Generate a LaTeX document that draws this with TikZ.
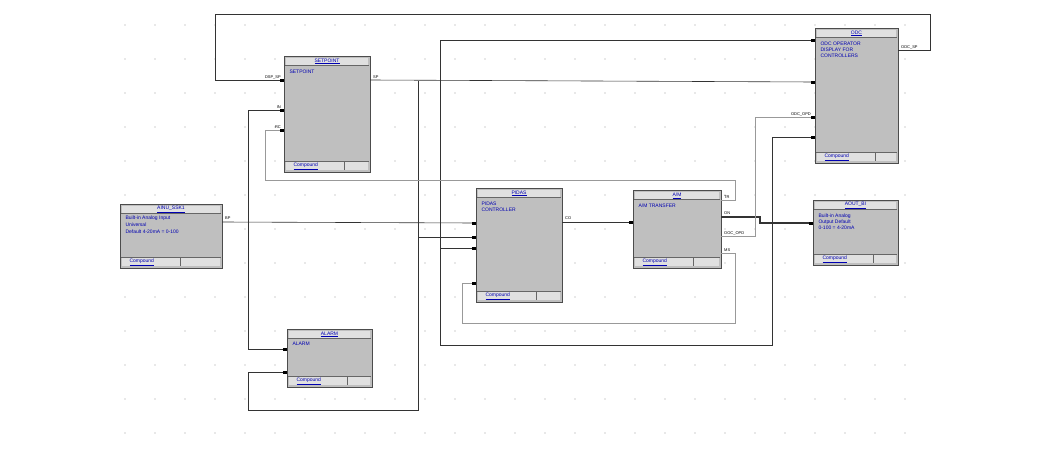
\documentclass[tikz,border=0pt]{standalone}
\usepackage{fontspec}
\setmainfont{Liberation Sans}
\usetikzlibrary{calc}
\begin{document}
\begin{tikzpicture}[x=1pt,y=-1pt,
 blk/.style={draw=black!70,line width=1.2pt,fill=black!25},
 ttl/.style={font=\fontsize{5}{6}\selectfont,text=blue!70!black},
 wire/.style={draw=black!80,line width=0.6pt},
 gwire/.style={draw=black!40,line width=0.6pt},
 lab/.style={font=\fontsize{4}{5}\selectfont,inner sep=1pt}]
\useasboundingbox (0,0) rectangle (1050,450);
\foreach \i in {0,...,26}{\foreach \j in {0,...,12}{\fill[black!18] (125+30*\i,25+34*\j) circle (0.8);}}
\newcommand{\myblk}[6]{%
 \node[blk,minimum width=#4pt-#2pt,minimum height=#5pt-#3pt,anchor=north west,inner sep=0] (#1) at (#2,#3) {};
 \fill[black!12] (#2+2,#3+2) rectangle (#4-2,#3+9);
 \draw[black!60] (#2+1,#3+9) -- (#4-1,#3+9);
 \node[ttl] at ({(#2+#4)/2},#3+5.5) {\underline{#6}};
 \fill[black!12] (#2+2,#5-11) rectangle (#4-2,#5-2);
 \draw[black!60] (#2+1,#5-11) -- (#4-1,#5-11) (#2+60,#5-11)--(#2+60,#5-2);
 \node[ttl,anchor=west] at (#2+6,#5-6) {\underline{Compound}};}
\myblk{ainu}{120}{204}{222}{268}{AINU\_SSK1}
\node[ttl,anchor=north west,align=left] at (122,212) {Built-in Analog Input\\[1pt]Universal\\[1pt]Default 4-20mA = 0-100};
\myblk{sp}{284}{56}{370}{172}{SETPOINT}
\node[ttl,anchor=north west] at (286,66) {SETPOINT};
\myblk{al}{287}{329}{372}{387}{ALARM}
\node[ttl,anchor=north west] at (289,339) {ALARM};
\myblk{pid}{476}{188}{562}{302}{PIDAS}
\node[ttl,anchor=north west,align=left] at (478,198) {PIDAS\\CONTROLLER};
\myblk{am}{633}{190}{721}{268}{A/M}
\node[ttl,anchor=north west] at (635,200) {A/M TRANSFER};
\myblk{odc}{815}{28}{898}{163}{ODC}
\node[ttl,anchor=north west,align=left] at (817,38) {ODC OPERATOR\\DISPLAY FOR\\CONTROLLERS};
\myblk{ao}{813}{200}{898}{265}{AOUT\_BI}
\node[ttl,anchor=north west,align=left] at (815,210) {Built-in Analog\\Output Default\\0-100 = 4-20mA};
\coordinate (spi1) at (284,80); \coordinate (spi2) at (284,110); \coordinate (spi3) at (284,130);
\coordinate (spo) at (370,80);
\coordinate (ali1) at (287,349); \coordinate (ali2) at (287,372);
\coordinate (ainuo) at (222,222);
\coordinate (pi1) at (476,223); \coordinate (pi2) at (476,237); \coordinate (pi3) at (476,248); \coordinate (pi4) at (476,283);
\coordinate (po) at (562,222);
\coordinate (ami) at (633,222);
\coordinate (amo1) at (721,200); \coordinate (amo2) at (721,217); \coordinate (amo3) at (721,236); \coordinate (amo4) at (721,253);
\coordinate (oi1) at (815,40); \coordinate (oi2) at (815,82); \coordinate (oi3) at (815,117); \coordinate (oi4) at (815,137);
\coordinate (oo) at (898,50);
\coordinate (aoi) at (813,223);
\draw[wire] (oo) -- (930,50) -- (930,14) -- (215,14) -- (215,80) -- (spi1);
\draw[wire] (spo) -- (oi2);
\draw[wire] (418,81) -- (418,410) -- (248,410) -- (248,372) -- (ali2);
\draw[wire] (418,237) -- (pi2);
\draw[wire] (oi1) -- (440,40) -- (440,345) -- (772,345) -- (772,137) -- (oi4);
\draw[wire] (440,248) -- (pi3);
\draw[wire] (ainuo) -- (pi1);
\draw[wire] (spi2) -- (248,110) -- (248,349) -- (ali1);
\draw[gwire] (spi3) -- (265,130) -- (265,180) -- (735,180) -- (735,200) -- (amo1);
\draw[wire] (po) -- (ami);
\draw[wire,line width=1.2pt] (amo2) -- (760,217) -- (760,223) -- (aoi);
\draw[gwire] (amo3) -- (755,236) -- (755,117) -- (oi3);
\draw[gwire] (amo4) -- (735,253) -- (735,323) -- (462,323) -- (462,283) -- (pi4);
\foreach \c in {spi1,spi2,spi3,ali1,ali2,pi1,pi2,pi3,pi4,ami,oi1,oi2,oi3,oi4,aoi}{\fill[black] ($(\c)+(-4,-1.5)$) rectangle ($(\c)+(0,1.5)$);}
\node[lab,anchor=south east] at (282,80) {DSP\_SP};
\node[lab,anchor=south east] at (282,110) {IN};
\node[lab,anchor=south east] at (282,130) {RC};
\node[lab,anchor=south west] at (372,80) {SP};
\node[lab,anchor=south west] at (224,221) {BP};
\node[lab,anchor=south west] at (564,221) {CO};
\node[lab,anchor=south west] at (723,200) {TR};
\node[lab,anchor=south west] at (723,216) {ON};
\node[lab,anchor=south west] at (723,236) {OOC\_OPD};
\node[lab,anchor=south west] at (723,253) {MS};
\node[lab,anchor=south east] at (812,117) {ODC\_OPD};
\node[lab,anchor=south west] at (900,50) {ODC\_SP};
\end{tikzpicture}
\end{document}
